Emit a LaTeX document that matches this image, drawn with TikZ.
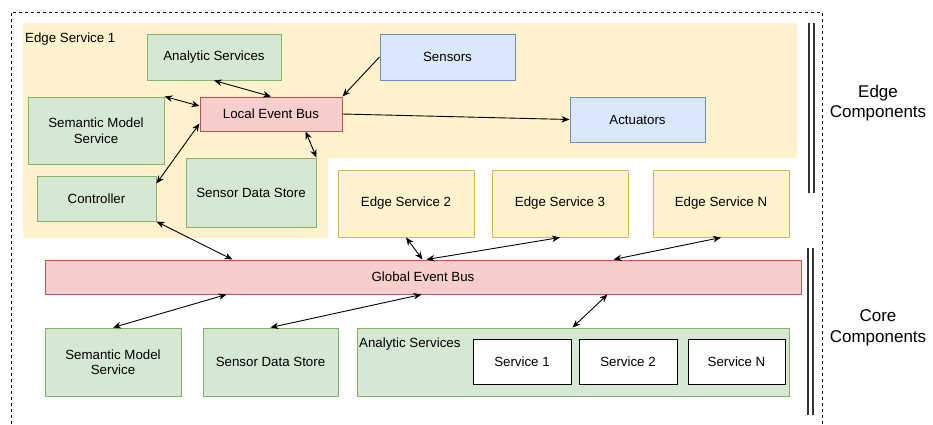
\documentclass[tikz,border=0pt]{standalone}
\usepackage{fontspec}
\setmainfont{Liberation Sans}
\usetikzlibrary{arrows.meta}
\definecolor{gfill}{HTML}{D5E8D4}\definecolor{gline}{HTML}{82B366}
\definecolor{rfill}{HTML}{F8CECC}\definecolor{rline}{HTML}{B85450}
\definecolor{bfill}{HTML}{DAE8FC}\definecolor{bline}{HTML}{6C8EBF}
\definecolor{yfill}{HTML}{FFF2CC}\definecolor{yline}{HTML}{D6B656}
\tikzset{
  box/.style={draw, line width=1pt, inner sep=0pt, align=center, font=\fontsize{13.3}{15.5}\selectfont},
  gbox/.style={box, fill=gfill, draw=gline},
  rbox/.style={box, fill=rfill, draw=rline},
  bbox/.style={box, fill=bfill, draw=bline},
  ybox/.style={box, fill=yfill, draw=yline},
  wbox/.style={box, fill=white, draw=black},
  lbl/.style={inner sep=0pt, font=\fontsize{13.3}{15.5}\selectfont},
  biglbl/.style={inner sep=0pt, align=center, font=\fontsize{17}{20.5}\selectfont},
  conn/.style={line width=0.9pt, {Stealth[length=8pt,width=6.5pt]}-{Stealth[length=8pt,width=6.5pt]}},
  oneway/.style={line width=0.9pt, -{Stealth[length=8pt,width=6.5pt]}},
  twin/.style={line width=1.1pt, draw=black!80}
}
\begin{document}
\begin{tikzpicture}[x=1pt,y=-1pt]
\useasboundingbox (0,0) rectangle (933,424);
% outer dashed frame
\draw[line width=1pt, dash pattern=on 3pt off 3pt] (11,430) -- (11,12) -- (822,12) -- (822,430);
% edge service 1 background
\fill[yfill] (23,23) -- (797,23) -- (797,158) -- (328,158) -- (328,238) -- (23,238) -- cycle;
\node[lbl, anchor=west] (es1) at (25,39) {Edge Service 1};
% edge service 1 contents
\node[gbox, minimum width=134pt, minimum height=46pt] (ana) at (214,57) {Analytic Services};
\node[gbox, minimum width=136pt, minimum height=67pt] (sm) at (96,130.5) {Semantic Model\\Service};
\node[rbox, minimum width=142pt, minimum height=34pt] (leb) at (271,114) {Local Event Bus};
\node[gbox, minimum width=119pt, minimum height=45pt] (ctrl) at (96.5,198.5) {Controller};
\node[gbox, minimum width=130pt, minimum height=69pt] (sds) at (251,192.5) {Sensor Data Store};
\node[bbox, minimum width=135pt, minimum height=46pt] (sens) at (447.5,57) {Sensors};
\node[bbox, minimum width=135pt, minimum height=45pt] (act) at (637.5,119.5) {Actuators};
% other edge services
\node[ybox, minimum width=136pt, minimum height=67pt] (es2) at (406,203.5) {Edge Service 2};
\node[ybox, minimum width=136pt, minimum height=67pt] (es3) at (560,203.5) {Edge Service 3};
\node[ybox, minimum width=136pt, minimum height=67pt] (esn) at (721,203.5) {Edge Service N};
% global event bus
\node[rbox, minimum width=756pt, minimum height=34pt] (geb) at (423,277) {Global Event Bus};
% core
\node[gbox, minimum width=136pt, minimum height=68pt] (csm) at (113,362) {Semantic Model\\Service};
\node[gbox, minimum width=135pt, minimum height=68pt] (csds) at (270.5,362) {Sensor Data Store};
\node[gbox, minimum width=432pt, minimum height=68pt] (cana) at (573,362) {};
\node[lbl, anchor=west] (canal) at (359,344) {Analytic Services};
\node[wbox, minimum width=98pt, minimum height=45pt] (s1) at (522,361.5) {Service 1};
\node[wbox, minimum width=98pt, minimum height=45pt] (s2) at (628,361.5) {Service 2};
\node[wbox, minimum width=97pt, minimum height=45pt] (sn) at (736.5,361.5) {Service N};
% side markers
\draw[twin] (809,23) -- (809,193);
\draw[twin] (814,23) -- (814,193);
\draw[twin] (808,248) -- (808,415);
\draw[twin] (813,248) -- (813,415);
\node[biglbl] (edgec) at (878,103) {Edge\\Components};
\node[biglbl] (corec) at (878,328) {Core\\Components};
% connectors
\draw[conn] (ana.south) -- (leb.north);
\draw[conn] (sm.north east) -- ([yshift=8pt]leb.west);
\draw[conn] ([yshift=-8pt]ctrl.north east) -- ([yshift=8pt]leb.south west);
\draw[conn] ([xshift=-37pt]leb.south east) -- (sds.north east);
\draw[oneway] (sens.west) -- (leb.north east);
\draw[oneway] (leb.east) -- (act.west);
\draw[conn] (ctrl.south east) -- ([xshift=188pt]geb.north west);
\draw[conn] (es2.south) -- ([xshift=378pt]geb.north west);
\draw[conn] ([xshift=382pt]geb.north west) -- (es3.south);
\draw[conn] ([xshift=569pt]geb.north west) -- (esn.south);
\draw[conn] (csm.north) -- ([xshift=182pt]geb.south west);
\draw[conn] (csds.north) -- ([xshift=377pt]geb.south west);
\draw[conn] ([xshift=216pt]cana.north west) -- ([xshift=563pt]geb.south west);
\end{tikzpicture}
\end{document}
